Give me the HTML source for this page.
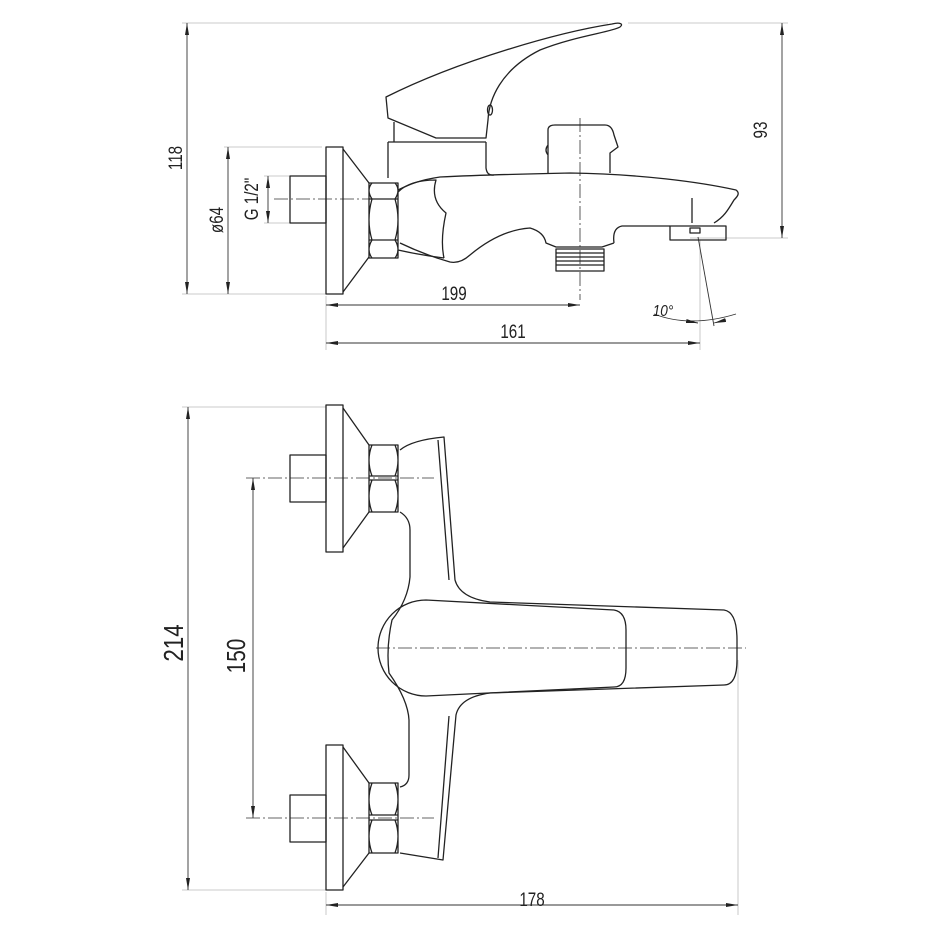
<!DOCTYPE html>
<html><head><style>html,body{margin:0;padding:0;background:#fff}svg{display:block}</style></head>
<body>
<svg width="940" height="940" viewBox="0 0 940 940" xmlns="http://www.w3.org/2000/svg" font-family="Liberation Sans, sans-serif">
<defs>
<marker id="a" viewBox="0 0 12 4" refX="12" refY="2" markerWidth="12" markerHeight="4" markerUnits="userSpaceOnUse" orient="auto-start-reverse"><path d="M0,0 L12,2 L0,4 z" fill="#222"/></marker>
</defs>
<g fill="none" stroke="#bbb" stroke-width="0.8">
<path d="M182,23 H608 M628,23 H788 M182,294 H326 M224,147 H322 M264,176 H290 M264,223 H290 M690,238 H788 M326,296 V350 M700,240 V350"/>
<path d="M182,407 H326 M182,890 H326 M738,660 V915 M326,892 V915"/>
</g>
<g stroke="#333" stroke-width="0.9" fill="none">
<line x1="187" y1="23" x2="187" y2="294" marker-start="url(#a)" marker-end="url(#a)"/>
<line x1="782" y1="23" x2="782" y2="238" marker-start="url(#a)" marker-end="url(#a)"/>
<line x1="228" y1="147" x2="228" y2="294" marker-start="url(#a)" marker-end="url(#a)"/>
<line x1="268" y1="176" x2="268" y2="223" marker-start="url(#a)" marker-end="url(#a)"/>
<line x1="326" y1="305" x2="580" y2="305" marker-start="url(#a)" marker-end="url(#a)"/>
<line x1="326" y1="343" x2="700" y2="343" marker-start="url(#a)" marker-end="url(#a)"/>
<line x1="698" y1="237" x2="714" y2="326"/>
<path d="M654,314 Q690,328 736,314"/>
<path d="M686,321 L698,323" marker-end="url(#a)"/>
<path d="M726,320 L714,323" marker-end="url(#a)"/>
<line x1="188" y1="407" x2="188" y2="890" marker-start="url(#a)" marker-end="url(#a)"/>
<line x1="253" y1="478" x2="253" y2="818" marker-start="url(#a)" marker-end="url(#a)"/>
<line x1="326" y1="905" x2="738" y2="905" marker-start="url(#a)" marker-end="url(#a)"/>
</g>
<g stroke="#333" stroke-width="0.8" stroke-dasharray="14,3,2,3" fill="none">
<path d="M274,199 H372 M580,118 V300 M246,478 H434 M246,818 H434 M376,648 H746"/>
</g>
<g stroke="#222" stroke-width="1.3" fill="none" stroke-linejoin="round">
<rect x="326" y="147" width="17" height="147"/>
<path d="M343,149 L369,183 M343,292 L369,257"/>
<rect x="290" y="176" width="36" height="47"/>
<path d="M369,183 L398,183 L398,258 L369,258 Z M369,199 H398 M372,183 Q366,190 372,199 Q366,220 372,240 Q366,250 372,258 M395,183 Q401,190 395,199 Q401,220 395,240 Q401,250 395,258 M369,240 H398"/>
<path d="M386,97 L388,118 L436,138 L486,138 L488,120 C489,100 500,70 540,50 C575,36 612,32 620,27 C624,24 620,22 612,24 C560,32 460,60 386,97 Z"/>
<ellipse cx="490" cy="110" rx="2.5" ry="5"/>
<path d="M394,122 V142 M388,142 H486 M388,142 V178 M486,142 V168 Q487,176 494,175"/>
<path d="M548,173 V130 Q548,125 555,125 H605 Q612,125 614,135 L618,147 L610,153 V173 M548,145 Q544,150 548,155"/>
<path d="M398,190 C410,184 420,180 440,177 C480,175 520,174 570,173 C640,174 700,182 736,190 C740,193 738,196 734,200 C728,210 724,217 714,223"/>
<path d="M692,198 V223"/>
<rect x="670" y="226" width="56" height="14"/>
<rect x="690" y="228" width="10" height="5"/>
<path d="M670,226 H622 Q612,228 614,243 M614,243 L602,247 H556 L546,243 Q544,232 530,228 Q500,230 470,255 Q460,264 450,262 Q425,255 400,243"/>
<rect x="556" y="249" width="48" height="22"/>
<path d="M556,253 H604 M556,257 H604 M556,261 H604 M556,265 H604"/>
<path d="M398,192 Q410,180 436,180 Q430,200 446,213 Q440,240 444,258 M398,250 Q420,255 444,258"/>
</g>
<g stroke="#222" stroke-width="1.3" fill="none" stroke-linejoin="round">
<rect x="326" y="405" width="17" height="147"/>
<path d="M343,408 L369,445 M343,548 L369,512"/>
<rect x="290" y="455" width="36" height="47"/>
<path d="M369,445 H398 V512 H369 Z M369,476 H398 M369,480 H398 M372,445 Q366,460 372,476 M372,480 Q366,496 372,512 M395,445 Q401,460 395,476 M395,480 Q401,496 395,512"/>
<rect x="326" y="745" width="17" height="145"/>
<path d="M343,747 L369,783 M343,887 L369,853"/>
<rect x="290" y="795" width="36" height="47"/>
<path d="M369,783 H398 V853 H369 Z M369,815 H398 M369,820 H398 M372,783 Q366,800 372,815 M372,820 Q366,836 372,853 M395,783 Q401,800 395,815 M395,820 Q401,836 395,853"/>
<path d="M400,450 Q412,440 444,437 L455,580 Q460,598 490,602 L724,610 Q737,612 737,640 V660 Q737,685 724,685 L490,693 Q460,697 456,715 L443,860 Q412,855 400,853"/>
<path d="M438,440 L449,580 M438,858 L449,716"/>
<path d="M400,512 Q410,518 410,530 V577 Q408,600 392,620 Q386,647 389,673 Q408,700 409,720 V775 Q409,785 400,787"/>
<path d="M426,600 L614,610 Q626,612 626,630 V668 Q626,687 614,687 L426,696 A48,48 0 0 1 426,600 Z"/>
</g>
<g fill="#222" font-size="19">
<text transform="translate(182,158) rotate(-90) scale(0.8,1)" text-anchor="middle">118</text>
<text transform="translate(767,130) rotate(-90) scale(0.8,1)" text-anchor="middle">93</text>
<text transform="translate(223,220) rotate(-90) scale(0.8,1)" text-anchor="middle">ø64</text>
<text transform="translate(258,199) rotate(-90) scale(0.8,1)" text-anchor="middle">G 1/2"</text>
<text transform="translate(454,300) scale(0.8,1)" text-anchor="middle">199</text>
<text transform="translate(513,338) scale(0.8,1)" text-anchor="middle">161</text>
<text transform="translate(663,316) scale(0.85,1)" text-anchor="middle" font-style="italic" font-size="16">10°</text>
<text transform="translate(183,643) rotate(-90) scale(0.8,1)" text-anchor="middle" font-size="28">214</text>
<text transform="translate(245,656) rotate(-90) scale(0.8,1)" text-anchor="middle" font-size="26">150</text>
<text transform="translate(532,906) scale(0.8,1)" text-anchor="middle">178</text>
</g>
</svg>
</body></html>
